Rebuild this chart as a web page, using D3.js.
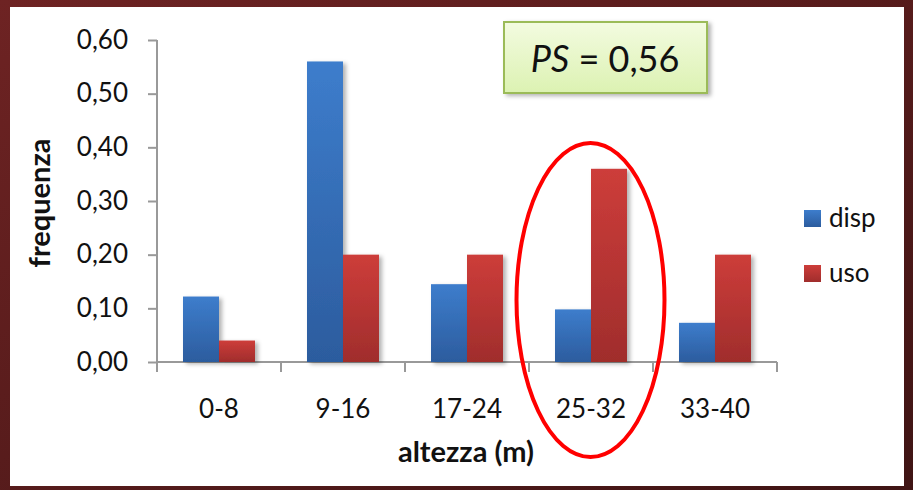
<!doctype html>
<html>
<head>
<style>
body { margin: 0; background: #fff; }
text { font-family: Lato, "Open Sans", sans-serif; fill: #111; }
</style>
<script src="https://d3js.org/d3.v7.min.js"></script>
</head>
<body>
<svg width="913" height="490"></svg>
<script>
var categories = ["0-8", "9-16", "17-24", "25-32", "33-40"];
var disp = [0.122, 0.56, 0.145, 0.098, 0.073];
var uso = [0.04, 0.20, 0.20, 0.36, 0.20];
var seriesNames = ["disp", "uso"];
var yTicks = [0, 0.1, 0.2, 0.3, 0.4, 0.5, 0.6];

var svg = d3.select("svg");
var defs = svg.append("defs");

// frame gradient
var fg = defs.append("linearGradient").attr("id", "frame")
	.attr("x1", 0).attr("y1", 0).attr("x2", 1).attr("y2", 1);
fg.append("stop").attr("offset", "0%").attr("stop-color", "#6e2323");
fg.append("stop").attr("offset", "100%").attr("stop-color", "#3f1414");

function barGrad(id, top, bottom) {
	var g = defs.append("linearGradient").attr("id", id)
		.attr("x1", 0).attr("y1", 0).attr("x2", 0).attr("y2", 1);
	g.append("stop").attr("offset", "0%").attr("stop-color", top);
	g.append("stop").attr("offset", "100%").attr("stop-color", bottom);
}
barGrad("gdisp", "#3d7dcc", "#2c5c9e");
barGrad("guso", "#cd3d3a", "#a02d2c");
barGrad("gbox", "#f3fbe0", "#dcf2b2");

var sh = defs.append("filter").attr("id", "shadow")
	.attr("x", "-20%").attr("y", "-20%").attr("width", "150%").attr("height", "150%");
sh.append("feDropShadow").attr("dx", 3).attr("dy", 2).attr("stdDeviation", 2)
	.attr("flood-color", "#000").attr("flood-opacity", 0.3);

svg.append("rect").attr("width", 913).attr("height", 490).attr("fill", "url(#frame)");
svg.append("rect").attr("x", 10).attr("y", 7).attr("width", 894).attr("height", 479).attr("fill", "#fff");

var x = d3.scaleBand().domain(categories).range([157, 777]);
var y = d3.scaleLinear().domain([0, 0.6]).range([362, 40]);
var inner = d3.scaleBand().domain(seriesNames).range([26, x.bandwidth() - 26]);

// axes
var yAxis = svg.append("g").attr("transform", "translate(157,0)")
	.call(d3.axisLeft(y).tickValues(yTicks).tickSize(9).tickPadding(20)
		.tickFormat(function(d) { return d3.format(".2f")(d).replace(".", ","); }));
var xAxis = svg.append("g").attr("transform", "translate(0,362)")
	.call(d3.axisBottom(x).tickSize(0).tickPadding(38));
xAxis.selectAll(".tick").append("line")
	.attr("x1", -x.bandwidth() / 2).attr("x2", -x.bandwidth() / 2).attr("y2", 10);
xAxis.append("line").attr("x1", 777).attr("x2", 777).attr("y2", 10);

[xAxis, yAxis].forEach(function(a) {
	a.select(".domain").attr("stroke", "#999").attr("stroke-width", 2);
	a.selectAll("line").attr("stroke", "#999").attr("stroke-width", 2);
	a.selectAll("text").attr("font-size", 26).attr("fill", "#111")
		.style("font-family", "Lato, sans-serif");
});
yAxis.select(".domain").attr("d", "M0,40V362");
xAxis.select(".domain").attr("d", "M157,0H777");

// bars
var rows = categories.map(function(c, i) { return { cat: c, disp: disp[i], uso: uso[i] }; });
var groups = svg.append("g").selectAll("g").data(rows).enter().append("g")
	.attr("transform", function(d) { return "translate(" + x(d.cat) + ",0)"; });
groups.selectAll("rect").data(function(d) {
	return seriesNames.map(function(s) { return { key: s, value: d[s] }; });
}).enter().append("rect")
	.attr("x", function(d) { return inner(d.key); })
	.attr("width", inner.bandwidth())
	.attr("y", function(d) { return y(d.value); })
	.attr("height", function(d) { return y(0) - y(d.value); })
	.attr("fill", function(d) { return "url(#g" + d.key + ")"; })
	.attr("filter", "url(#shadow)");

// axis titles
svg.append("text").attr("x", 466).attr("y", 462).attr("text-anchor", "middle")
	.attr("font-size", 29).attr("font-weight", "bold").text("altezza (m)");
svg.append("text").attr("transform", "translate(50,203) rotate(-90)").attr("text-anchor", "middle")
	.attr("font-size", 29).attr("font-weight", "bold").text("frequenza");

// legend
var legend = svg.append("g").selectAll("g").data(seriesNames).enter().append("g")
	.attr("transform", function(d, i) { return "translate(804," + (210 + i * 55) + ")"; });
legend.append("rect").attr("width", 17).attr("height", 17)
	.attr("fill", function(d) { return "url(#g" + d + ")"; });
legend.append("text").attr("x", 25).attr("y", 17).attr("font-size", 26).text(function(d) { return d; });

// PS box
svg.append("rect").attr("x", 504).attr("y", 22).attr("width", 203).attr("height", 71)
	.attr("fill", "url(#gbox)").attr("stroke", "#9bbb59").attr("stroke-width", 2)
	.attr("filter", "url(#shadow)");
var ps = svg.append("text").attr("x", 605).attr("y", 72).attr("text-anchor", "middle").attr("font-size", 36);
ps.append("tspan").attr("font-style", "italic").text("PS");
ps.append("tspan").text(" = 0,56");

// highlight ellipse
svg.append("ellipse").attr("cx", x("25-32") + x.bandwidth() / 2 - 0.5).attr("cy", 300)
	.attr("rx", 74).attr("ry", 157).attr("fill", "none").attr("stroke", "#ff0000").attr("stroke-width", 4);
</script>
</body>
</html>
